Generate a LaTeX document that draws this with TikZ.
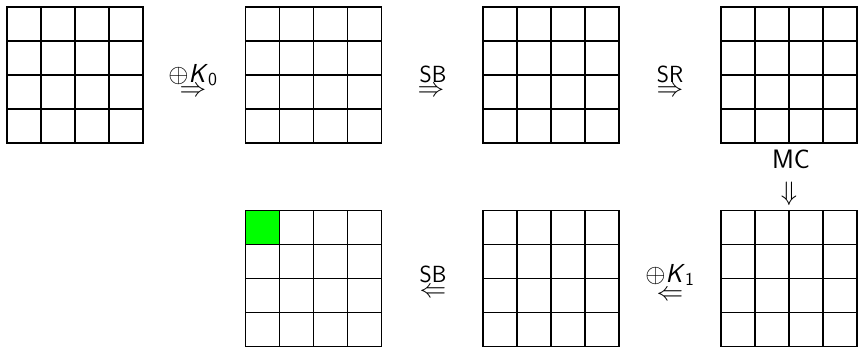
\documentclass[tikz,border=0pt]{standalone}
\usepackage{fix-cm}
\usepackage{amsmath}
\usepackage{fontspec}
\usetikzlibrary{calc}
\definecolor{cellgreen}{RGB}{0,255,0}
\begin{document}
\begin{tikzpicture}[x=0.75pt,y=-0.75pt]
\useasboundingbox (0,0) rectangle (858,347);
\tikzset{
  gridbox/.style={draw, line width=0.9pt, minimum width=102pt, minimum height=102pt, inner sep=0pt, outer sep=0pt},
  gridline/.style={line width=0.9pt},
  lbl/.style={anchor=base, inner sep=0pt, font=\sffamily\fontsize{17.5}{20}\selectfont},
  klbl/.style={anchor=base, inner sep=0pt, font=\sffamily\fontsize{19.5}{22}\selectfont},
  biglbl/.style={anchor=base, inner sep=0pt, font=\sffamily\fontsize{20}{24}\selectfont},
  arr/.style={inner sep=0pt, font=\fontsize{20}{24}\selectfont},
}
% grids
\node[gridbox] (g1) at (75,75) {};
\node[gridbox] (g2) at (313.5,75) {};
\node[gridbox] (g3) at (551,75) {};
\node[gridbox] (g4) at (789,75) {};
\node[gridbox] (g5) at (313.5,278.5) {};
\node[gridbox] (g6) at (551,278.5) {};
\node[gridbox] (g7) at (789,278.5) {};
\filldraw[fill=cellgreen, draw=black, line width=0.9pt] (g5.north west) rectangle ($(g5.north west)!0.25!(g5.south east)$);
\foreach \n in {g1,g2,g3,g4,g5,g6,g7} {
  \foreach \i in {1,2,3} {
    \draw[gridline] ($(\n.north west)!\i/4!(\n.north east)$) -- ($(\n.south west)!\i/4!(\n.south east)$);
    \draw[gridline] ($(\n.north west)!\i/4!(\n.south west)$) -- ($(\n.north east)!\i/4!(\n.south east)$);
  }
}
% labels
\node[klbl] (t1) at (193,82) {$\oplus$\textit{K}$_{\textsf{0}}$};
\node[arr] (a1) at (193,92) {$\Rightarrow$};
\node[lbl] (t2) at (433,82) {SB};
\node[arr] (a2) at (431,92) {$\Rightarrow$};
\node[lbl] (t3) at (670,82) {SR};
\node[arr] (a3) at (670,92) {$\Rightarrow$};
\node[biglbl] (t4) at (791,168) {MC};
\node[arr] (a4) at (789,194) {$\Downarrow$};
\node[lbl] (t5) at (433,282) {SB};
\node[arr] (a5) at (433,293) {$\Leftarrow$};
\node[klbl] (t6) at (670,282) {$\oplus$\textit{K}$_{\textsf{1}}$};
\node[arr] (a6) at (670,296) {$\Leftarrow$};
\end{tikzpicture}
\end{document}
